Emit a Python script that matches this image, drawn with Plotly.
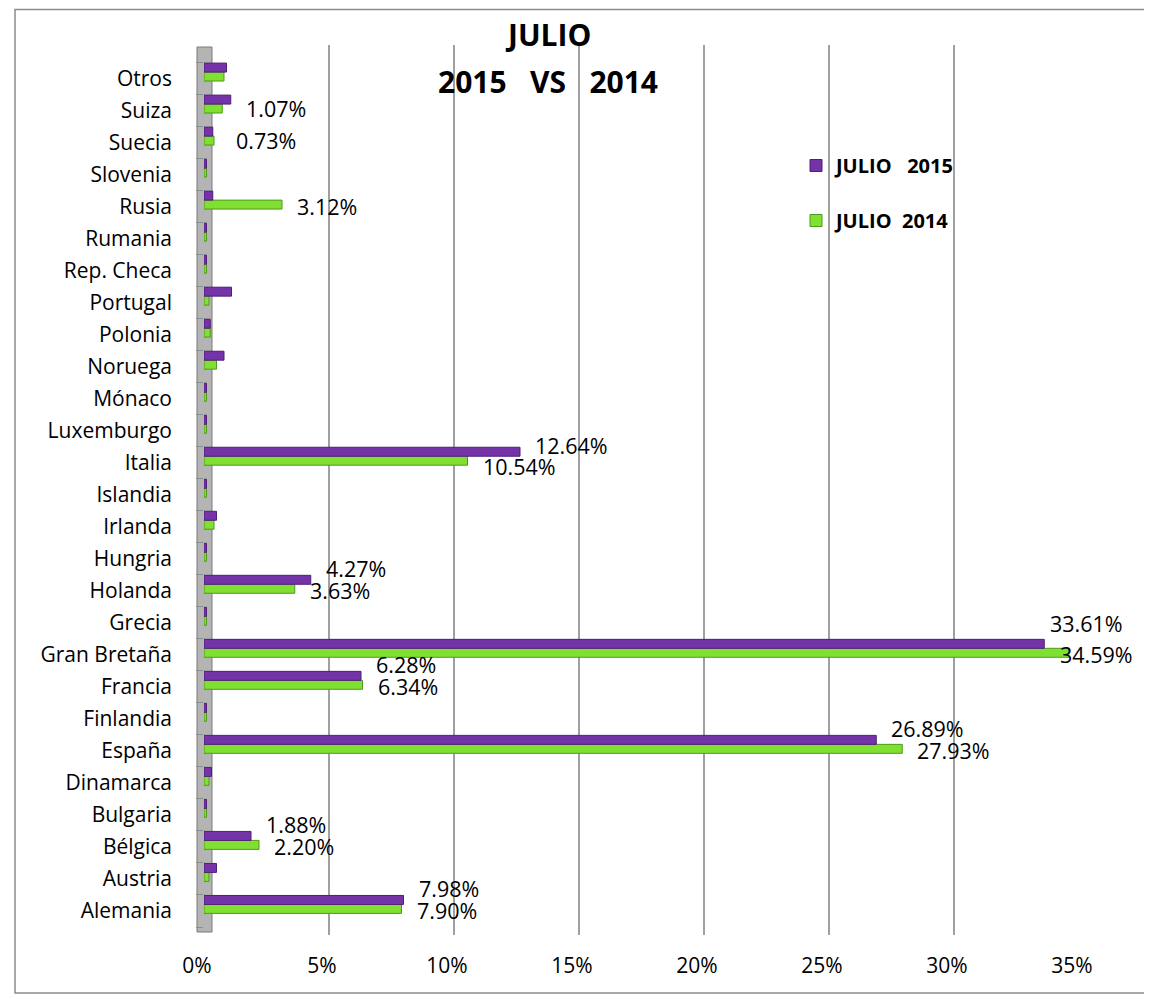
import plotly.graph_objects as go

# ---------------- data ----------------
countries = ["Alemania", "Austria", "Bélgica", "Bulgaria", "Dinamarca", "España",
             "Finlandia", "Francia", "Gran Bretaña", "Grecia", "Holanda", "Hungria",
             "Irlanda", "Islandia", "Italia", "Luxemburgo", "Mónaco", "Noruega",
             "Polonia", "Portugal", "Rep. Checa", "Rumania", "Rusia", "Slovenia",
             "Suecia", "Suiza", "Otros"]

julio_2015 = [7.98, 0.50, 1.88, 0.10, 0.30, 26.89,
              0.10, 6.28, 33.61, 0.10, 4.27, 0.10,
              0.50, 0.10, 12.64, 0.10, 0.10, 0.80,
              0.25, 1.10, 0.10, 0.10, 0.35, 0.10,
              0.35, 1.07, 0.90]
julio_2014 = [7.90, 0.20, 2.20, 0.10, 0.20, 27.93,
              0.10, 6.34, 34.59, 0.10, 3.63, 0.10,
              0.40, 0.10, 10.54, 0.10, 0.10, 0.50,
              0.25, 0.20, 0.10, 0.10, 3.12, 0.10,
              0.40, 0.73, 0.80]

labeled_2015 = ["Alemania", "Bélgica", "España", "Francia", "Gran Bretaña",
                "Holanda", "Italia", "Suiza"]
labeled_2014 = ["Alemania", "Bélgica", "España", "Francia", "Gran Bretaña",
                "Holanda", "Italia", "Rusia", "Suiza"]

x_ticks = [0, 5, 10, 15, 20, 25, 30, 35]

NB = "\u00a0"
title_lines = ["JULIO", f"2015{NB*3}VS{NB*3}2014"]
name_2015 = f"JULIO{NB*3}2015"
name_2014 = f"JULIO{NB*2}2014"

# ---------------- styling ----------------
FONT = "Open Sans"
PURPLE = "#7434a8"
PURPLE_LINE = "#4f1e78"
GREEN = "#80e032"
GREEN_LINE = "#4e9a18"
GRID = "#a0a0a0"

# page body adds an 8px margin; reference pixel positions are shifted by it
SH = 8
W, H = 1152 - SH, 999 - SH

# label offsets (pixels) per series; nudges for crowded labels
OFF_2015 = (13, 22)
OFF_2014 = (13, 0)
NUDGE = {("Gran Bretaña", "2015"): (4, 31), ("Gran Bretaña", "2014"): (-11, 0),
         ("Italia", "2015"): (13, 17), ("Italia", "2014"): (13, -4),
         ("Suiza", "2015"): (13, 2), ("Suiza", "2014"): (12, -30)}

BAR_W = 0.28
fig = go.Figure()
fig.add_trace(go.Bar(y=countries, x=julio_2014, orientation="h", name=name_2014,
                     legendgroup="b", legendrank=2, width=BAR_W, offset=-0.075,
                     marker=dict(color=GREEN, line=dict(color=GREEN_LINE, width=1))))
fig.add_trace(go.Bar(y=countries, x=julio_2015, orientation="h", name=name_2015,
                     legendgroup="a", legendrank=1, width=BAR_W, offset=0.205,
                     marker=dict(color=PURPLE, line=dict(color=PURPLE_LINE, width=1))))

annotations = []
for series, vals, labs, off in (("2015", julio_2015, labeled_2015, OFF_2015),
                                ("2014", julio_2014, labeled_2014, OFF_2014)):
    for c, v in zip(countries, vals):
        if c in labs:
            dx, dy = NUDGE.get((c, series), off)
            annotations.append(dict(x=v, y=c, xref="x", yref="y", text=f"{v:.2f}%",
                                    showarrow=False, xanchor="left", yanchor="middle",
                                    xshift=dx, yshift=dy,
                                    font=dict(family=FONT, size=21.5, color="black")))

L, R, T, B = 204 - SH, W - (1079 - SH), 45 - SH, H - (935 - SH)
pw, ph = W - L - R, H - T - B


def px_x(p):
    """reference pixel x -> paper x"""
    return (p - SH - L) / pw


def px_y(p):
    """reference pixel y -> paper y"""
    return (H - B - (p - SH)) / ph


for i, line in enumerate(title_lines):
    annotations.append(dict(text=line, x=px_x(548), y=px_y([35, 82][i]), xref="paper",
                            yref="paper", showarrow=False, xanchor="center", yanchor="middle",
                            font=dict(family=FONT, size=30, color="black", weight="bold")))

shapes = [
    # outer chart border
    dict(type="rect", xref="paper", yref="paper", x0=px_x(15), x1=px_x(1147),
         y0=px_y(993), y1=px_y(9.5), line=dict(color="#8c8c8c", width=1.5), layer="below"),
    # left 3D wall
    dict(type="rect", xref="paper", yref="paper", x0=px_x(197), x1=px_x(212),
         y0=px_y(932), y1=px_y(47), fillcolor="#b4b4b4",
         line=dict(color="#7a7a7a", width=1), layer="below"),
]

n = len(countries)
fig.update_layout(
    width=W, height=H,
    paper_bgcolor="white", plot_bgcolor="white",
    margin=dict(l=L, r=R, t=T, b=B),
    barmode="overlay",
    font=dict(family=FONT, size=22, color="black"),
    showlegend=True,
    legend=dict(x=px_x(796), y=px_y(146), xanchor="left", yanchor="top",
                traceorder="grouped", tracegroupgap=26, bgcolor="rgba(0,0,0,0)",
                font=dict(family=FONT, size=20, color="black", weight="bold")),
    annotations=annotations,
    shapes=shapes,
)
fig.update_xaxes(range=[0, 35], tickvals=x_ticks, ticktext=[f"{t}%" for t in x_ticks],
                 showgrid=True, gridcolor=GRID, gridwidth=2, zeroline=False,
                 showline=False, ticks="", ticklabelstandoff=16, ticklabelshift=-7,
                 tickfont=dict(family=FONT, size=21, color="black"))
fig.update_yaxes(categoryorder="array", categoryarray=countries,
                 range=[-0.75, n - 1 + 1.05], showgrid=False, zeroline=False,
                 showline=False, ticks="outside", tickson="boundaries", ticklen=7,
                 tickcolor="#8c8c8c", ticklabelstandoff=31,
                 tickfont=dict(family=FONT, size=21, color="black"))

fig.write_html("out.html")
